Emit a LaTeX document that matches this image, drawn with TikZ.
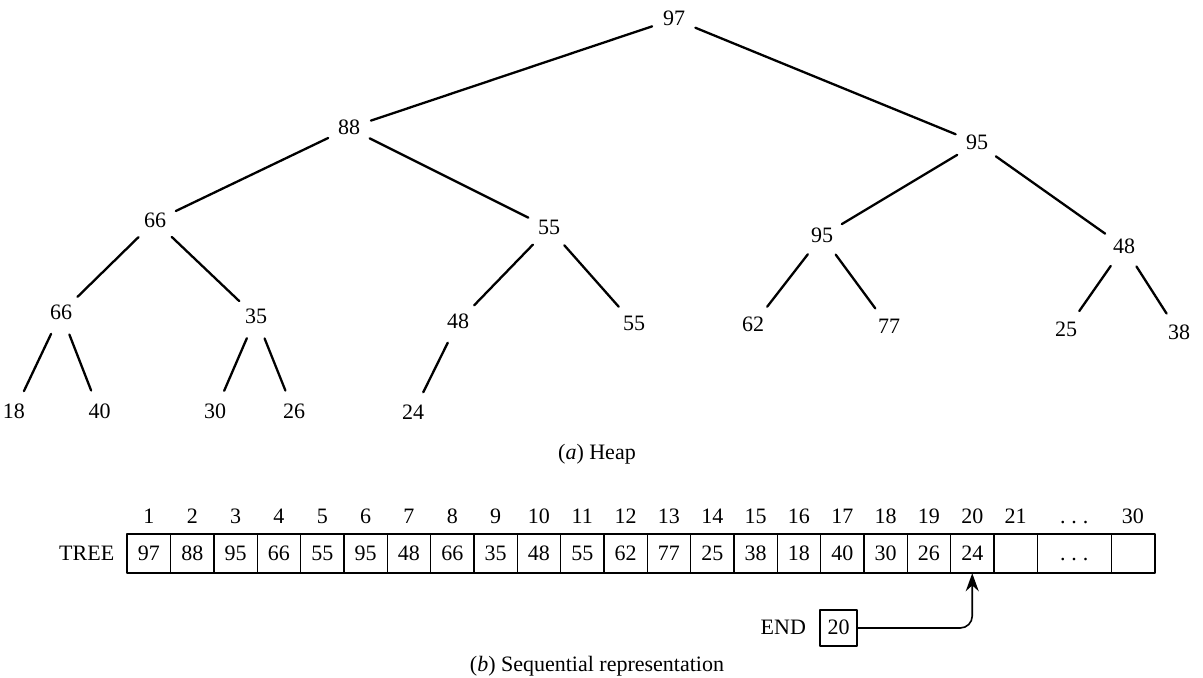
\documentclass[tikz,border=0pt]{standalone}
\usepackage{fontspec}
\setmainfont{Liberation Serif}
\usetikzlibrary{positioning,arrows.meta}
\newcommand{\spdots}{.\kern3pt.\kern3pt.}
\begin{document}
\begin{tikzpicture}[x=0.5pt,y=-0.5pt,line join=round,line cap=round,
	every node/.style={font=\fontsize{11}{13}\selectfont,text height=0.68em,text depth=0pt},
	key/.style={circle,inner sep=3.5pt},
	edge/.style={line width=1.15pt},
	cell/.style={draw,line width=0.6pt,minimum width=21.67pt,minimum height=19.75pt,inner sep=0pt,outer sep=0pt},
	idx/.style={inner sep=0pt},
	declare function={cw=43.33; cx=127.3; cy=553.5;}]
	\useasboundingbox (0,0) rectangle (1203,678);
	% heap
	\node[key] (t1) at (674,19) {97};
	\node[key] (t2) at (349,128) {88};
	\node[key] (t3) at (977,143) {95};
	\node[key] (t4) at (155,221) {66};
	\node[key] (t5) at (549,228) {55};
	\node[key] (t6) at (822,236) {95};
	\node[key] (t7) at (1124,247) {48};
	\node[key] (t8) at (61,313) {66};
	\node[key] (t9) at (256,317) {35};
	\node[key] (t10) at (458,322) {48};
	\node[key] (t11) at (634,324) {55};
	\node[key] (t12) at (753,325) {62};
	\node[key] (t13) at (889,327) {77};
	\node[key] (t14) at (1066,330) {25};
	\node[key] (t15) at (1179,333) {38};
	\node[key] (t16) at (14,412) {18};
	\node[key] (t17) at (99.5,412) {40};
	\node[key] (t18) at (215,412) {30};
	\node[key] (t19) at (294,412) {26};
	\node[key] (t20) at (413,413) {24};
	\foreach \p/\c in {1/2,1/3,2/4,2/5,3/6,3/7,4/8,4/9,5/10,5/11,6/12,6/13,7/14,7/15,8/16,8/17,9/18,9/19,10/20}
		\draw[edge] (t\p) -- (t\c);
	\node (capa) at (597,453) {(\textit{a}) Heap};
	% sequential representation
	\foreach \v [count=\i] in {97,88,95,66,55,95,48,66,35,48,55,62,77,25,38,18,40,30,26,24}
		\node[cell] (c\i) at ({cx+(\i-0.5)*cw},cy) {\v};
	\node[cell] (c21) at ({cx+20.5*cw},cy) {};
	\node[cell,minimum width=37pt,right=0pt of c21] (cdots) {\spdots};
	\node[cell,right=0pt of cdots] (c30) {};
	\draw[line width=1pt] (c1.north west) rectangle (c30.south east);
	\foreach \i in {1,...,21}
		\node[idx] at ([yshift=18.5pt]c\i.center) {\i};
	\node[idx] at ([yshift=18.5pt]cdots.center) {\spdots};
	\node[idx] at ([yshift=18.5pt]c30.center) {30};
	\node[left=3pt of c1] (tree) {TREE};
	\node[cell,line width=0.8pt,minimum width=18.5pt,minimum height=18pt] (endbox) at (838.5,628) {20};
	\node[left=3.5pt of endbox] (endlbl) {END};
	\draw[line width=0.8pt,rounded corners=6pt,-{Stealth[length=9pt,width=6.5pt]}] (endbox.east) -| (c20.south);
	\node (capb) at (597,665) {(\textit{b}) Sequential representation};
\end{tikzpicture}
\end{document}
